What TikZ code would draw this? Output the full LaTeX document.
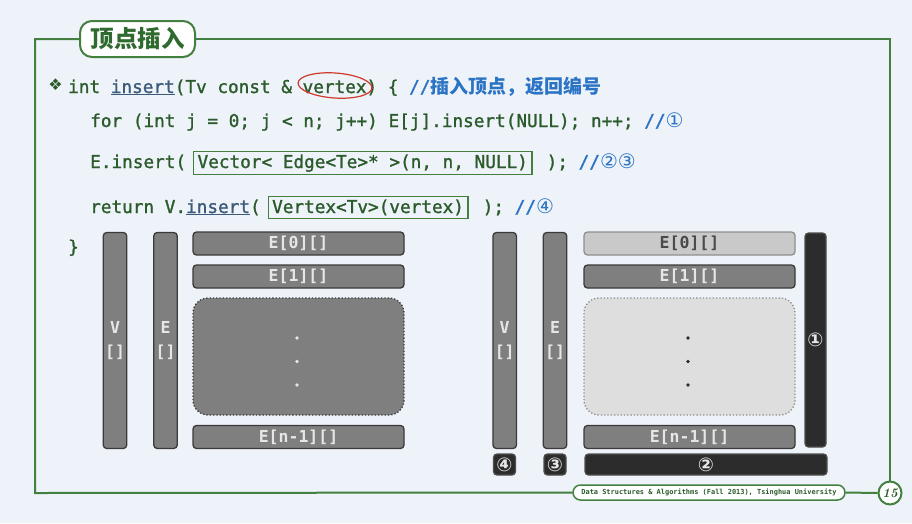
\documentclass[tikz,border=0pt]{standalone}
\usepackage{fontspec}
\newfontfamily\code{DejaVu Sans Mono}[FakeBold=1.3]
\newfontfamily\codeb{DejaVu Sans Mono Bold}
\newfontfamily\dvs{DejaVu Sans}
\newfontfamily\cjk{Noto Sans CJK SC}
\definecolor{bgc}{HTML}{EEF3F9}
\definecolor{framec}{HTML}{43803F}
\definecolor{titlec}{HTML}{2F6A2F}
\definecolor{codec}{HTML}{2B5A2B}
\definecolor{cmtc}{HTML}{2B73C4}
\definecolor{insc}{HTML}{3C5A7A}
\definecolor{redc}{HTML}{D0382A}
\definecolor{barfill}{HTML}{7F7F7F}
\definecolor{barline}{HTML}{3A3A3A}
\definecolor{bartext}{HTML}{E6E6E6}
\definecolor{lightfill}{HTML}{C9C9C9}
\definecolor{lightline}{HTML}{8E8E8E}
\definecolor{lighttext}{HTML}{4A4A4A}
\definecolor{dotlight}{HTML}{DEDEDE}
\definecolor{darkfill}{HTML}{2C2C2C}
\definecolor{darkline}{HTML}{4E4E4E}
\newcommand\mycmt[1]{\textcolor{cmtc}{#1}}
\newcommand\myins[1]{\textcolor{insc}{\underline{#1}}}
\newcommand\cnum[1]{{\dvs\fontsize{20}{20}\selectfont #1}}
\begin{document}
\begin{tikzpicture}[x=1pt,y=-1pt,
  codetext/.style={font=\code\fontsize{17.7}{20}\selectfont, text=codec, inner sep=0pt, anchor=base west},
  codebox/.style={codetext, draw=framec, line width=1.2pt, inner xsep=4pt, inner ysep=3pt},
  bar/.style={draw=barline, fill=barfill, rounded corners=3.5pt, line width=1.3pt, text=bartext,
    font=\codeb\fontsize{16.5}{24}\selectfont, inner sep=0pt, align=center},
  lightbar/.style={bar, fill=lightfill, draw=lightline, text=lighttext},
  darkbar/.style={bar, fill=darkfill, draw=darkline, text=bartext, font=\dvs\bfseries\fontsize{19}{20}\selectfont},
  dotbox/.style={draw=barline, fill=barfill, dotted, line width=1.3pt, rounded corners=15pt},
  lightdotbox/.style={dotbox, draw=lightline, fill=dotlight},
  vbar/.style={minimum width=23.5pt, minimum height=216pt},
  hbar/.style={minimum width=211pt, minimum height=23pt},
  frame/.style={draw=framec, line width=2pt}
]
\fill[bgc] (0,0) rectangle (912,523);
\useasboundingbox (0,0) rectangle (912,523);

% title, footer, page number
\node[draw=framec, line width=2pt, fill=white, rounded corners=12pt, minimum width=115pt, minimum height=36pt,
  font=\cjk\bfseries\fontsize{23.5}{26}\selectfont, text=titlec, inner sep=0pt] (title) at (137.5,39) {顶点插入};
\node[draw=framec, line width=1.5pt, fill=white, rounded corners=7.5pt, minimum width=272pt, minimum height=15pt,
  font=\codeb\fontsize{6.95}{8}\selectfont, text=codec, inner sep=0pt] (footer) at (709,492.5)
  {Data Structures \& Algorithms (Fall 2013), Tsinghua University};
\node[circle, draw=framec, line width=2pt, fill=white, minimum size=23pt, inner sep=0pt,
  font=\bfseries\itshape\fontsize{13}{14}\selectfont, text=codec] (pg) at (890,493) {15};
\draw[frame] (title.west) -| (35,493) -- (footer.west);
\draw[frame] (footer.east) -- (pg.west);
\draw[frame] (pg.north) |- (title.east);

% code
\node[font=\dvs\fontsize{16}{16}\selectfont, text=codec, inner sep=0pt] (bullet) at (55.5,85) {❖};
\node[codetext] (l1) at (68,93) {int \myins{insert}(Tv const \& vertex) \{ \mycmt{//{\cjk\bfseries\fontsize{19}{20}\selectfont 插入顶点，返回编号}}};
\draw[redc, line width=1.2pt, rotate around={-4:(335,85.5)}] (335,85.5) ellipse [x radius=37, y radius=12.5];
\node[codetext] (l2) at (90,127) {for (int j = 0; j < n; j++) E[j].insert(NULL); n++; \mycmt{//\cnum{①}}};
\node[codetext] (l3a) at (90,168) {E.insert(};
\node[codebox] (l3b) at ([xshift=6.66pt]l3a.base east) {Vector< Edge<Te>* >(n, n, NULL)};
\node[codetext] (l3c) at ([xshift=14pt]l3b.base east) {); \mycmt{//\cnum{②③}}};
\node[codetext] (l4a) at (90,213) {return V.\myins{insert}(};
\node[codebox] (l4b) at ([xshift=6.66pt]l4a.base east) {Vertex<Tv>(vertex)};
\node[codetext] (l4c) at ([xshift=14pt]l4b.base east) {); \mycmt{//\cnum{④}}};
\node[codetext] (l5) at (68,253) {\}};

% left diagram
\node[bar, vbar] (lv) at (115,340.5) {V\\{}[]};
\node[bar, vbar] (le) at (165.5,340.5) {E\\{}[]};
\node[bar, hbar] (le0) at (298.5,243.5) {E[0][]};
\node[bar, hbar] (le1) at (298.5,276.5) {E[1][]};
\node[dotbox, minimum width=211pt, minimum height=117pt] (ldots) at (298.5,356.5) {};
\node[bar, hbar] (len) at (298.5,437) {E[n-1][]};
\foreach \yy in {338,361.5,385} \fill[bartext] (297,\yy) circle [radius=1.8];

% right diagram
\node[bar, vbar] (rv) at (504.7,340.5) {V\\{}[]};
\node[bar, vbar] (re) at (555,340.5) {E\\{}[]};
\node[lightbar, hbar] (re0) at (689.5,243.5) {E[0][]};
\node[bar, hbar] (re1) at (689.5,276.5) {E[1][]};
\node[lightdotbox, minimum width=211pt, minimum height=117pt] (rdots) at (689.5,356.5) {};
\node[bar, hbar] (ren) at (689.5,437) {E[n-1][]};
\foreach \yy in {338,361.5,385} \fill[darkfill] (688,\yy) circle [radius=1.8];
\node[darkbar, minimum width=21pt, minimum height=214pt] (c1) at (815.5,340) {①};
\node[darkbar, minimum width=22pt, minimum height=21pt] (c4) at (504.5,464.5) {④};
\node[darkbar, minimum width=22pt, minimum height=21pt] (c3) at (555,464.5) {③};
\node[darkbar, minimum width=242pt, minimum height=21pt] (c2) at (706,464.5) {②};
\end{tikzpicture}
\end{document}
